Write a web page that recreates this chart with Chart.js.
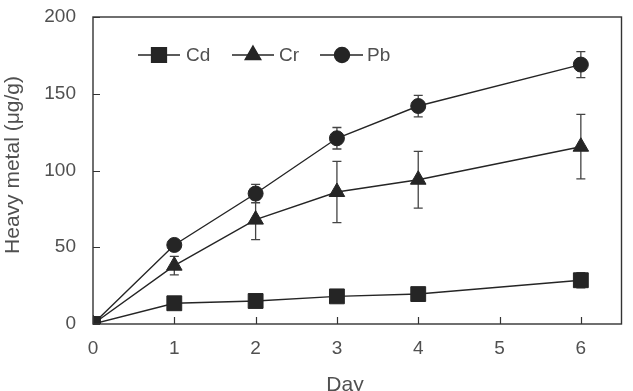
<!DOCTYPE html>
<html>
<head>
<meta charset="utf-8">
<script src="https://cdn.jsdelivr.net/npm/chart.js@4/dist/chart.umd.min.js"></script>
<style>
  html, body { margin: 0; padding: 0; background: #fff; }
  #wrap { width: 633px; height: 391px; }
</style>
</head>
<body>
<div id="wrap"><canvas id="c" width="633" height="391"></canvas></div>
<script>
// ---- data ----
const days = [0, 1, 2, 3, 4, 6];
const seriesNames = ['Cd', 'Cr', 'Pb'];
const cdValues = [0, 13.5, 15, 18, 19.5, 28.5];
const cdErrors = [0, 1, 1, 4, 2, 5];
const crValues = [0, 38, 68, 86, 94, 115.5];
const crErrors = [0, 6, 13, 20, 18.5, 21];
const pbValues = [0, 51.5, 85, 121, 142, 169];
const pbErrors = [0, 3, 6, 7, 7, 8.5];
const xTicks = [0, 1, 2, 3, 4, 5, 6];
const yTicks = [0, 50, 100, 150, 200];
const xTitle = 'Day';
const yTitle = 'Heavy metal (μg/g)';

const INK = '#252525';
const TEXT = '#505050';
const FONT = '"Liberation Sans", Arial, sans-serif';

function pts(vals) { return days.map((d, i) => ({ x: d, y: vals[i] })); }

const styles = [
  { pointStyle: 'rect', pointRadius: 10.5 },
  { pointStyle: 'triangle', pointRadius: 9 },
  { pointStyle: 'circle', pointRadius: 7.5 }
];
const valueSets = [cdValues, crValues, pbValues];
const errorSets = [cdErrors, crErrors, pbErrors];

const datasets = seriesNames.map((name, k) => ({
  label: name,
  data: pts(valueSets[k]),
  errors: errorSets[k],
  borderColor: INK,
  backgroundColor: INK,
  borderWidth: 1.4,
  pointBackgroundColor: INK,
  pointBorderColor: INK,
  pointBorderWidth: 1,
  pointStyle: styles[k].pointStyle,
  pointRadius: styles[k].pointRadius,
  pointHoverRadius: styles[k].pointRadius,
  tension: 0,
  fill: false
}));

const decor = {
  id: 'decor',
  beforeDatasetsDraw(chart) {
    const ctx = chart.ctx;
    const xs = chart.scales.x, ys = chart.scales.y;
    ctx.save();
    ctx.strokeStyle = '#444';
    ctx.lineWidth = 1.3;
    chart.data.datasets.forEach(ds => {
      ds.data.forEach((p, i) => {
        const e = ds.errors[i];
        if (!e) return;
        const px = xs.getPixelForValue(p.x);
        const top = ys.getPixelForValue(p.y + e);
        const bot = ys.getPixelForValue(p.y - e);
        ctx.beginPath();
        ctx.moveTo(px, top); ctx.lineTo(px, bot);
        ctx.moveTo(px - 4.5, top); ctx.lineTo(px + 4.5, top);
        ctx.moveTo(px - 4.5, bot); ctx.lineTo(px + 4.5, bot);
        ctx.stroke();
      });
    });
    ctx.restore();
  },
  afterDatasetsDraw(chart) {
    const ctx = chart.ctx;
    const a = chart.chartArea;
    const xs = chart.scales.x, ys = chart.scales.y;
    ctx.save();
    // frame
    ctx.strokeStyle = '#333';
    ctx.lineWidth = 1.4;
    ctx.strokeRect(a.left, a.top, a.right - a.left, a.bottom - a.top);
    // inward ticks
    ctx.beginPath();
    xTicks.forEach(v => {
      const px = Math.round(xs.getPixelForValue(v)) + 0.5;
      ctx.moveTo(px, a.bottom); ctx.lineTo(px, a.bottom - 7);
    });
    yTicks.forEach(v => {
      const py = Math.round(ys.getPixelForValue(v)) + 0.5;
      ctx.moveTo(a.left, py); ctx.lineTo(a.left + 7, py);
    });
    ctx.lineWidth = 1.2;
    ctx.stroke();

    // legend
    const legendY = 55;
    const items = [
      { lx0: 138, lx1: 180, mx: 159, tx: 186 },
      { lx0: 232, lx1: 274, mx: 253, tx: 279 },
      { lx0: 320, lx1: 363, mx: 342, tx: 367 }
    ];
    chart.data.datasets.forEach((ds, k) => {
      const it = items[k];
      ctx.strokeStyle = INK;
      ctx.lineWidth = 1.4;
      ctx.beginPath();
      ctx.moveTo(it.lx0, legendY); ctx.lineTo(it.lx1, legendY);
      ctx.stroke();
      ctx.fillStyle = INK;
      Chart.helpers.drawPoint(ctx, {
        pointStyle: ds.pointStyle, radius: ds.pointRadius, rotation: 0, borderWidth: 1
      }, it.mx, legendY);
      ctx.fillStyle = TEXT;
      ctx.font = '19px ' + FONT;
      ctx.textAlign = 'left';
      ctx.textBaseline = 'middle';
      ctx.fillText(ds.label, it.tx, legendY + 1);
    });

    // axis titles
    ctx.fillStyle = TEXT;
    ctx.font = '21px ' + FONT;
    ctx.textAlign = 'center';
    ctx.textBaseline = 'alphabetic';
    ctx.fillText(xTitle, 345, 391);
    ctx.save();
    ctx.translate(19, 165);
    ctx.rotate(-Math.PI / 2);
    ctx.textBaseline = 'alphabetic';
    ctx.fillText(yTitle, 0, 0);
    ctx.restore();
    ctx.restore();
  }
};

new Chart(document.getElementById('c'), {
  type: 'line',
  data: { datasets },
  options: {
    responsive: false,
    animation: false,
    devicePixelRatio: 1,
    layout: { padding: { top: 17, right: 9, left: 0, bottom: 0 } },
    plugins: { legend: { display: false }, tooltip: { enabled: false } },
    scales: {
      x: {
        type: 'linear',
        min: 0, max: 6.5,
        afterBuildTicks: s => { s.ticks = xTicks.map(v => ({ value: v })); },
        afterFit: s => { s.height = 67; s.paddingLeft = 0; s.paddingRight = 0; },
        grid: { display: false, drawTicks: false },
        border: { display: false },
        ticks: { color: TEXT, font: { family: FONT, size: 19 }, padding: 13, maxRotation: 0 }
      },
      y: {
        type: 'linear',
        min: 0, max: 200,
        afterBuildTicks: s => { s.ticks = yTicks.map(v => ({ value: v })); },
        afterFit: s => { s.width = 93; s.paddingTop = 0; s.paddingBottom = 0; },
        grid: { display: false, drawTicks: false },
        border: { display: false },
        ticks: { color: TEXT, font: { family: FONT, size: 19 }, padding: 17 }
      }
    }
  },
  plugins: [decor]
});
</script>
</body>
</html>
